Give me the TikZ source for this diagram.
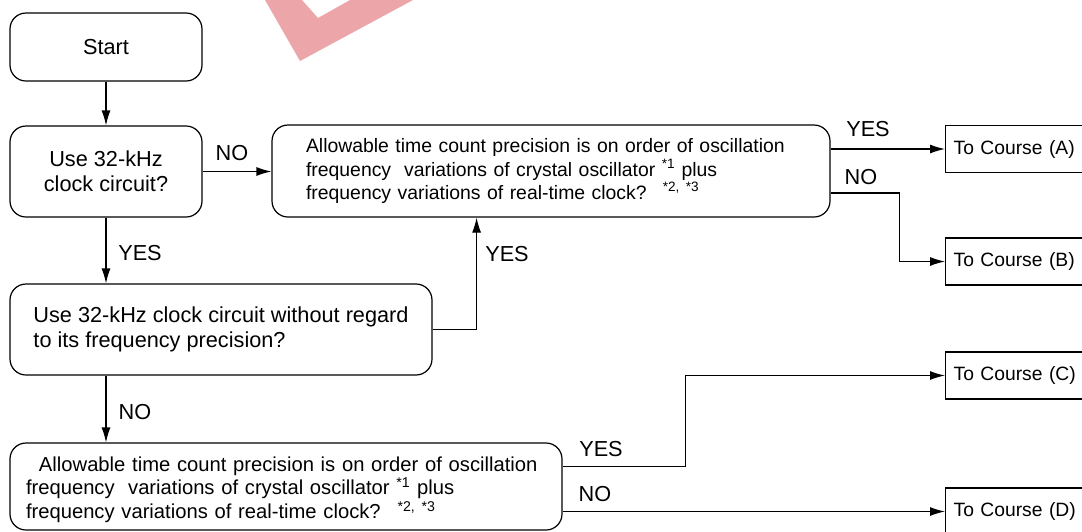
\documentclass[tikz,border=0pt]{standalone}
\usepackage{fontspec}
\setmainfont{Liberation Sans}
\usepackage{tikz}
\usetikzlibrary{positioning}
\usetikzlibrary{shapes.geometric, arrows.meta}

\definecolor{stamp}{RGB}{236,166,170}

\newcommand{\bigtxt}{\fontsize{21.7}{25}\selectfont}
\newcommand{\smalltxt}{\fontsize{19.4}{23.5}\selectfont}
\newcommand{\lowtxt}{\fontsize{20.2}{23.8}\selectfont}
\newcommand{\coursetxt}{\fontsize{19.3}{23}\selectfont}

\begin{document}
\begin{tikzpicture}[x=1pt, y=-1pt,
    roundbox/.style={draw, line width=1.2pt, rounded corners=16pt, inner sep=0pt},
    coursebox/.style={draw, line width=1.2pt, minimum width=149pt, minimum height=47pt, anchor=west,
        align=left, text width=135pt, inner xsep=8pt, inner ysep=0pt, font=\coursetxt},
    lbl/.style={font=\bigtxt, inner sep=0pt},
    arr/.style={-{Latex[length=15pt,width=9pt]}, line width=1.2pt}]
        \useasboundingbox (0,0) rectangle (1082,531);
        \clip (0,0) rectangle (1082,531);

        % stamp in the top margin
        \fill [stamp] (265,0) -- (300,61) -- (413,0) -- (350,0) -- (318,18) -- (302,0) -- cycle;

        \node [roundbox, minimum width=192pt, minimum height=68pt, font=\bigtxt] (start) at (106,47) {Start};
        \node [roundbox, minimum width=192pt, minimum height=91pt, font=\bigtxt, align=center] (q1) at (106,171.5)
            {Use 32-kHz\\clock circuit?};
        \node [roundbox, minimum width=558pt, minimum height=92pt, font=\smalltxt, align=left,
            text width=490pt, inner xsep=34pt] (q2) at (551,171)
            {Allowable time count precision is on order of oscillation\\
             frequency~ variations of crystal oscillator \textsuperscript{*1} plus\\
             frequency variations of real-time clock?~ \textsuperscript{*2, *3}};
        \node [roundbox, minimum width=422pt, minimum height=91pt, font=\bigtxt, align=left] (q3) at (221,329.5)
            {Use 32-kHz clock circuit without regard\\to its frequency precision?};
        \node [roundbox, minimum width=552pt, minimum height=87pt, font=\lowtxt, align=left,
            text width=520pt, inner xsep=16pt] (q4) at (286,486.5)
            {\rule{0pt}{21pt}\hspace*{13pt}Allowable time count precision is on order of oscillation\\
             frequency~ variations of crystal oscillator \textsuperscript{*1} plus\\
             frequency variations of real-time clock?~ \textsuperscript{*2, *3}};

        \node [coursebox] (ca) at (945,149) {To Course (A)};
        \node [coursebox] (cb) at (945,261.5) {To Course (B)};
        \node [coursebox] (cc) at (945,375.5) {To Course (C)};
        \node [coursebox] (cd) at (945,511.5) {To Course (D)};

        \draw [arr] (start) -- (q1);
        \draw [arr] (q1.east) -- (q1.east -| q2.west);
        \draw [arr] (q1) -- (q1 |- q3.north);
        \draw [arr] (q3.east) -- ++(44,0) coordinate (q3up) -- (q3up |- q2.south);
        \draw [arr] (q1 |- q3.south) -- (q1 |- q4.north);
        \draw [arr] (q2.east |- ca.west) -- (ca.west);
        \draw [arr] ([yshift=-22pt]q2.east) -- ++(69,0) |- (cb.west);
        \draw [arr] ([yshift=20pt]q4.east) -- ++(123,0) |- (cc.west);
        \draw [arr] (q4.east |- cd.west) -- (cd.west);

        \node [lbl] (no1) at (232,153) {NO};
        \node [lbl] (yes1) at (140,253) {YES};
        \node [lbl] (yes2) at (507,254) {YES};
        \node [lbl] (yesa) at (868,129) {YES};
        \node [lbl] (nob) at (861,177) {NO};
        \node [lbl] (no2) at (135,412) {NO};
        \node [lbl] (yesc) at (601,449) {YES};
        \node [lbl] (nod) at (595,494) {NO};
\end{tikzpicture}
\end{document}
